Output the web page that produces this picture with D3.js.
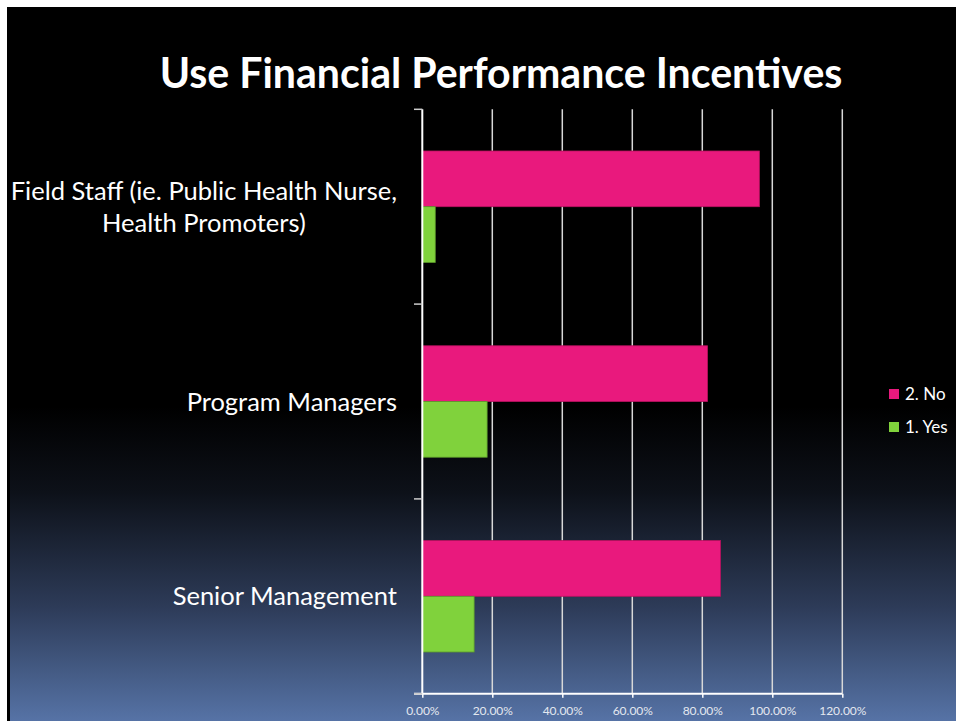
<!DOCTYPE html>
<html>
<head>
<meta charset="utf-8">
<script src="https://cdn.jsdelivr.net/npm/d3@7"></script>
<style>
  html, body { margin: 0; padding: 0; background: #fff; }
  svg { display: block; }
</style>
</head>
<body>
<div id="chart"></div>
<script>
// chart data
const categories = ['Field Staff (ie. Public Health Nurse,\nHealth Promoters)', 'Program Managers', 'Senior Management'];
const seriesNames = ['2. No', '1. Yes'];
const noValues = [96.3, 81.48, 85.19];
const yesValues = [3.7, 18.52, 14.81];
const xTicks = [0, 20, 40, 60, 80, 100, 120];
const title = 'Use Financial Performance Incentives';

const colors = { '2. No': '#e9197d', '1. Yes': '#80d23c' };
const strokes = { '2. No': '#b8125f', '1. Yes': '#5c9a2c' };

const width = 956, height = 721;
const svg = d3.select('#chart').append('svg')
  .attr('width', width)
  .attr('height', height);

// slide background
const defs = svg.append('defs');
const grad = defs.append('linearGradient')
  .attr('id', 'bg').attr('x1', 0).attr('y1', 0).attr('x2', 0).attr('y2', 1);
grad.append('stop').attr('offset', '0%').attr('stop-color', '#000');
grad.append('stop').attr('offset', '56%').attr('stop-color', '#000');
grad.append('stop').attr('offset', '68%').attr('stop-color', '#0d1119');
grad.append('stop').attr('offset', '84%').attr('stop-color', '#2d3b58');
grad.append('stop').attr('offset', '100%').attr('stop-color', '#5673a6');

svg.append('rect').attr('x', 7).attr('y', 7).attr('width', width - 7).attr('height', height - 7)
  .attr('fill', 'url(#bg)');
svg.append('rect').attr('x', 7).attr('y', 7).attr('width', 3).attr('height', height - 7)
  .attr('fill', '#000');

// title
const titleText = svg.append('text')
  .attr('x', 501).attr('y', 88)
  .attr('text-anchor', 'middle')
  .style('font-family', 'Lato, "Open Sans", sans-serif')
  .style('font-weight', 'bold')
  .style('font-size', '40px')
  .style('fill', '#fff')
  .text(title);
const tw = titleText.node().getComputedTextLength();
titleText.style('font-size', (40 * 683 / tw) + 'px');

const margin = { left: 422.3, right: 842.3, top: 109.3, bottom: 693.7 };

const x = d3.scaleLinear().domain([0, 120]).range([margin.left, margin.right]);
const y = d3.scaleBand().domain(categories).range([margin.top, margin.bottom])
  .paddingInner(0.428).paddingOuter(0.214);
const ySub = d3.scaleBand().domain(seriesNames).range([0, y.bandwidth()]);

// vertical gridlines
svg.append('g')
  .selectAll('line')
  .data(xTicks.slice(1))
  .join('line')
  .attr('x1', d => x(d)).attr('x2', d => x(d))
  .attr('y1', margin.top).attr('y2', margin.bottom)
  .attr('stroke', '#d8d8d8')
  .attr('stroke-width', 1.5);

// bars
const rows = categories.map((c, i) => ({ cat: c, values: [
  { key: '2. No', value: noValues[i] },
  { key: '1. Yes', value: yesValues[i] }
] }));

svg.append('g')
  .selectAll('g')
  .data(rows)
  .join('g')
  .attr('transform', d => `translate(0,${y(d.cat)})`)
  .selectAll('rect')
  .data(d => d.values)
  .join('rect')
  .attr('x', x(0))
  .attr('y', d => ySub(d.key))
  .attr('width', d => x(d.value) - x(0))
  .attr('height', ySub.bandwidth())
  .attr('fill', d => colors[d.key])
  .attr('stroke', d => strokes[d.key])
  .attr('stroke-width', 0.8);

// x axis
const xAxis = d3.axisBottom(x)
  .tickValues(xTicks)
  .tickSize(4)
  .tickFormat(d => d3.format('.2f')(d) + '%');

const gx = svg.append('g')
  .attr('transform', `translate(0,${margin.bottom})`)
  .call(xAxis);
gx.select('.domain').remove();
gx.selectAll('.tick line').attr('stroke', '#fff').attr('stroke-width', 1.5);
gx.selectAll('.tick text')
  .attr('y', 13)
  .style('font-family', 'Lato, "Open Sans", sans-serif')
  .style('font-size', '12px')
  .style('fill', '#e4e8f0');
gx.append('line')
  .attr('x1', 414).attr('x2', margin.right)
  .attr('y1', 0).attr('y2', 0)
  .attr('stroke', '#fff').attr('stroke-width', 2);

// y axis line and category separator ticks
svg.append('line')
  .attr('x1', margin.left).attr('x2', margin.left)
  .attr('y1', margin.top).attr('y2', margin.bottom)
  .attr('stroke', '#fff').attr('stroke-width', 2);

const step = y.step();
const bounds = categories.map(c => y(c) - step * y.paddingOuter()).concat([margin.bottom]);
svg.append('g')
  .selectAll('line')
  .data(bounds)
  .join('line')
  .attr('x1', 414).attr('x2', margin.left)
  .attr('y1', d => d).attr('y2', d => d)
  .attr('stroke', d => d < 300 && d > 200 ? '#fff' : '#ccc')
  .attr('stroke-width', 1.5);

// category labels
const labelX = 397;
categories.forEach(c => {
  const lines = c.split('\n');
  const cy = y(c) + y.bandwidth() / 2;
  const lh = 32;
  const t = svg.append('text')
    .attr('text-anchor', 'middle')
    .style('font-family', 'Lato, "Open Sans", sans-serif')
    .style('font-size', '25.5px')
    .style('fill', '#fff');
  lines.forEach((l, i) => {
    t.append('tspan').text(l)
      .attr('y', cy + (i - (lines.length - 1) / 2) * lh + 9);
  });
  const w = d3.max(t.selectAll('tspan').nodes(), n => n.getComputedTextLength());
  t.selectAll('tspan').attr('x', labelX - w / 2);
});

// legend
const legend = svg.append('g')
  .selectAll('g')
  .data(seriesNames)
  .join('g')
  .attr('transform', (d, i) => `translate(889,${389 + i * 33})`);
legend.append('rect')
  .attr('width', 10).attr('height', 10)
  .attr('fill', d => colors[d]);
legend.append('text')
  .attr('x', 16).attr('y', 11)
  .style('font-family', 'Lato, "Open Sans", sans-serif')
  .style('font-size', '17px')
  .style('fill', '#fff')
  .text(d => d);
</script>
</body>
</html>
